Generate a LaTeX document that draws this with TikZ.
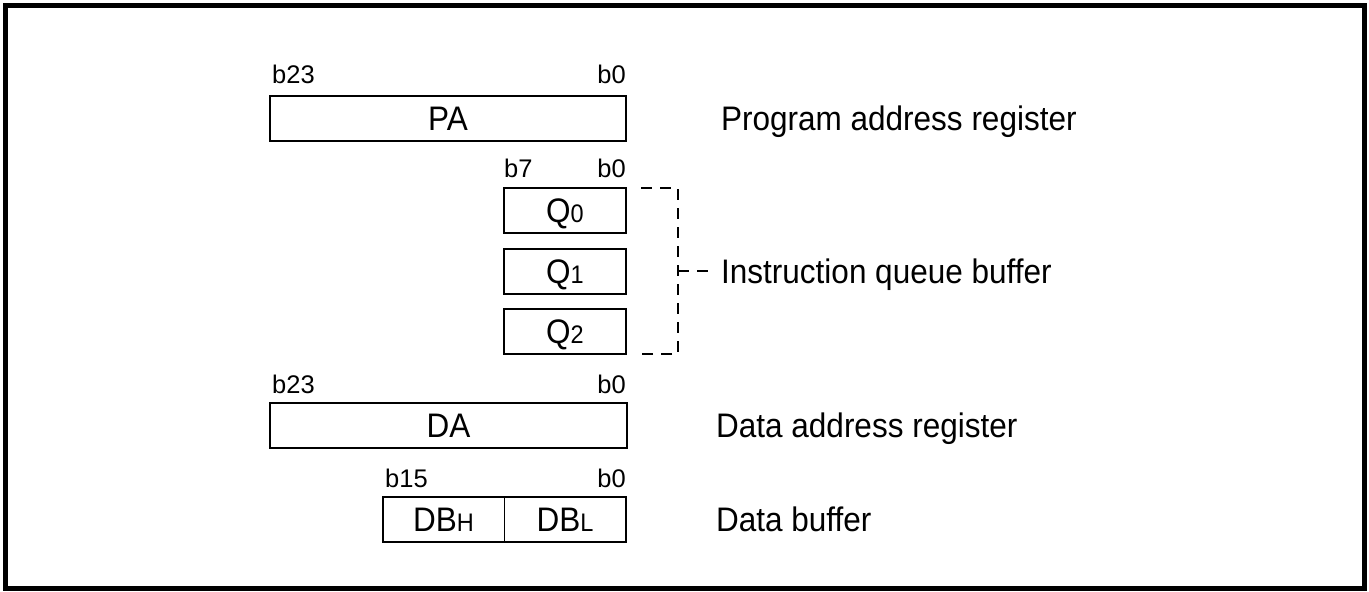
\documentclass[tikz,border=0pt]{standalone}
\usepackage{fontspec}
\setmainfont{Liberation Sans}
\newcommand{\tallt}[1]{\scalebox{1}[1.08]{#1}}
\newcommand{\sbx}[1]{{\fontsize{23.5}{23.5}\selectfont #1}}
\begin{document}
\begin{tikzpicture}[x=1pt,y=-1pt,
  reg/.style={draw,line width=2pt,rectangle,inner sep=0pt,minimum height=45pt,
    text height=24pt,text depth=0pt,font=\fontsize{31.5}{31.5}\selectfont},
  half/.style={rectangle,inner sep=0pt,minimum height=45pt,
    text height=24pt,text depth=0pt,font=\fontsize{31.5}{31.5}\selectfont},
  bitlbl/.style={inner sep=0pt,font=\fontsize{25.5}{25.5}\selectfont},
  desc/.style={inner sep=0pt,anchor=base west,font=\fontsize{31.5}{31.5}\selectfont},
  brk/.style={line width=2pt,dash pattern=on 11pt off 8pt}]
\useasboundingbox (0,0) rectangle (1369,592);
\draw[line width=5pt] (5.5,5) rectangle (1364.5,588.5);
% Program address register
\node[reg,minimum width=356pt] (PA) at (448,118.5) {\tallt{PA}};
\node[bitlbl,anchor=base west] (pa23) at (272,83) {b23};
\node[bitlbl,anchor=base east] (pa0) at (626,83) {b0};
\node[desc] (padesc) at (721,130.5) {\tallt{Program address register}};
% Instruction queue
\node[reg,minimum width=122pt] (Q0) at (565,210.5) {\tallt{Q\sbx{0}}};
\node[reg,minimum width=122pt] (Q1) at (565,271.5) {\tallt{Q\sbx{1}}};
\node[reg,minimum width=122pt] (Q2) at (565,331.5) {\tallt{Q\sbx{2}}};
\node[bitlbl,anchor=base west] (q7) at (504,177) {b7};
\node[bitlbl,anchor=base east] (q0b) at (626,177) {b0};
\coordinate (bt1) at (641,188);
\coordinate (bt2) at (678,188);
\coordinate (bb2) at (678,354);
\coordinate (bb1) at (641,354);
\coordinate (bm) at (678,271);
\draw[brk] (bt1) -- (bt2) -- (bb2) -- (bb1);
\node[desc] (iqdesc) at (721,283) {\tallt{Instruction queue buffer}};
\coordinate (bm2) at (iqdesc.west |- bm);
\draw[brk] (bm) -- ([xshift=-6pt]bm2);
% Data address register
\node[reg,minimum width=357pt] (DA) at (448.5,425) {\tallt{DA}};
\node[bitlbl,anchor=base west] (da23) at (272,393) {b23};
\node[bitlbl,anchor=base east] (da0) at (626,393) {b0};
\node[desc] (dadesc) at (716,437) {\tallt{Data address register}};
% Data buffer
\node[reg,minimum width=243pt] (DB) at (504.5,519.5) {};
\node[half,minimum width=121pt] (DBH) at (443.5,519.5) {\tallt{DB\sbx{H}}};
\node[half,minimum width=122pt] (DBL) at (565,519.5) {\tallt{DB\sbx{L}}};
\draw[line width=1pt] (DBH.north east) -- (DBH.south east);
\node[bitlbl,anchor=base west] (db15) at (385,487) {b15};
\node[bitlbl,anchor=base east] (db0) at (626,487) {b0};
\node[desc] (dbdesc) at (716,531.5) {\tallt{Data buffer}};
\end{tikzpicture}
\end{document}
